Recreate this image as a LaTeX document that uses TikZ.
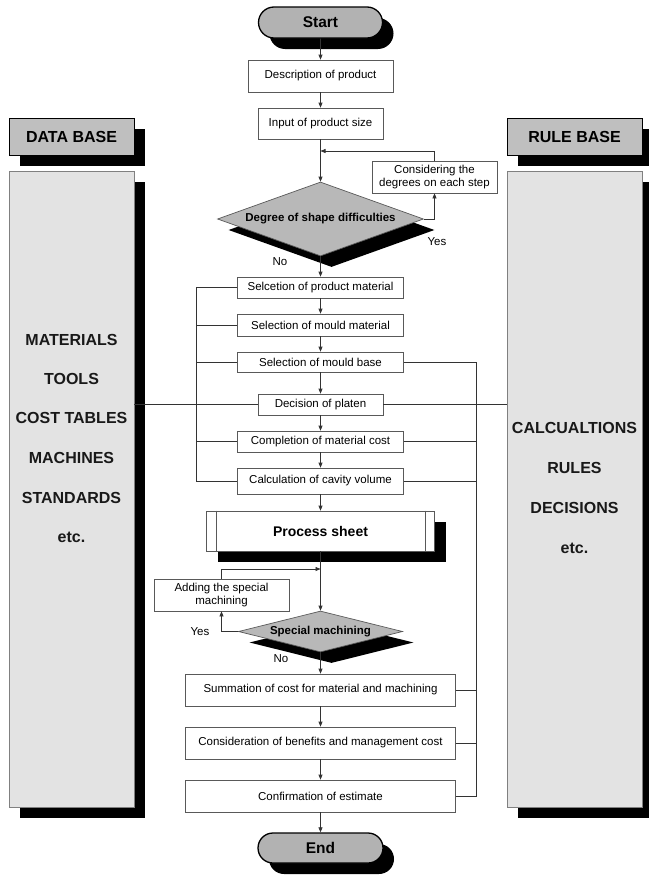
\documentclass[tikz,border=0pt]{standalone}
\usepackage{fontspec}
\setmainfont{Liberation Sans}
\usetikzlibrary{shapes.geometric,shapes.misc,shadows,arrows.meta}
\begin{document}
\begin{tikzpicture}[x=1pt,y=-1pt,
  line/.style={draw=black!80,line width=0.7pt},
  arr/.style={line,-{Triangle[length=5pt,width=4pt]}},
  box/.style={draw=black!65,line width=0.7pt,fill=white,font=\fontsize{11.5}{13.5}\selectfont,inner sep=0pt,align=center},
  blk/.style={drop shadow={shadow xshift=11pt,shadow yshift=-11pt,fill=black,opacity=1}},
  term/.style={rounded rectangle,draw=black,line width=1.3pt,fill=black!30,blk,font=\fontsize{15.5}{18}\bfseries\selectfont,minimum width=124pt,minimum height=31pt,inner sep=0pt},
  dec/.style={diamond,draw=black!65,line width=0.7pt,fill=black!28,blk,inner sep=0pt,font=\fontsize{11.5}{14}\bfseries\selectfont},
  hdr/.style={draw=black,line width=1pt,fill=black!25,blk,font=\fontsize{16}{19}\bfseries\selectfont,minimum height=37pt,inner sep=0pt},
  panel/.style={draw=black!50,line width=0.7pt,fill=black!11,blk,minimum height=636pt,inner sep=0pt},
  lbl/.style={font=\fontsize{11.5}{13.5}\selectfont,inner sep=0pt},
  big/.style={font=\fontsize{16}{19}\bfseries\selectfont,inner sep=0pt,text=black!90}
]
\useasboundingbox (0,0) rectangle (648,878);

% side panels
\node[hdr,minimum width=125pt] (dbh) at (71.5,136.5) {DATA BASE};
\node[panel,minimum width=125pt] (db) at (71.5,489) {};
\node[hdr,minimum width=135pt] (rbh) at (574.5,136.5) {RULE BASE};
\node[panel,minimum width=135pt] (rb) at (574.5,489) {};

\node[big] (t1) at (71.5,340) {MATERIALS};
\node[big] (t2) at (71.5,379) {TOOLS};
\node[big] (t3) at (71.5,418) {COST TABLES};
\node[big] (t4) at (71.5,458) {MACHINES};
\node[big] (t5) at (71.5,498) {STANDARDS};
\node[big] (t6) at (71.5,537) {etc.};
\node[big] (r1) at (574.5,428) {CALCUALTIONS};
\node[big] (r2) at (574.5,468) {RULES};
\node[big] (r3) at (574.5,508) {DECISIONS};
\node[big] (r4) at (574.5,548) {etc.};

% main column
\node[term] (start) at (320.5,22.5) {Start};
\node[box,minimum width=145pt,minimum height=32pt] (desc) at (320.5,76) {Description of product};
\node[box,minimum width=125pt,minimum height=31pt] (input) at (320.5,123.5) {Input of product size};
\node[box,minimum width=125pt,minimum height=32pt] (consider) at (434.5,177) {Considering the\\degrees on each step};
\node[dec,aspect=2.78,minimum width=206pt,minimum height=74pt] (shape) at (320.5,219) {Degree of shape difficulties};
\node[box,minimum width=166pt,minimum height=21pt] (prodmat) at (320.5,287.5) {Selcetion of product material};
\node[box,minimum width=166pt,minimum height=22pt] (mouldmat) at (320.5,325) {Selection of mould material};
\node[box,minimum width=166pt,minimum height=20pt] (mouldbase) at (320.5,362) {Selection of mould base};
\node[box,minimum width=125pt,minimum height=21pt] (platen) at (320.5,404.5) {Decision of platen};
\node[box,minimum width=166pt,minimum height=21pt] (complete) at (320.5,441.5) {Completion of material cost};
\node[box,minimum width=166pt,minimum height=26pt] (cavity) at (320.5,481) {Calculation of cavity volume};
\node[box,blk,minimum width=228pt,minimum height=40pt,font=\fontsize{14}{17}\bfseries\selectfont] (ps) at (320.5,531) {Process sheet};
\draw[draw=black!65,line width=0.7pt] ([xshift=10pt]ps.north west) -- ([xshift=10pt]ps.south west);
\draw[draw=black!65,line width=0.7pt] ([xshift=-10pt]ps.north east) -- ([xshift=-10pt]ps.south east);
\node[box,minimum width=135pt,minimum height=32pt] (adding) at (221.5,595) {Adding the special\\machining};
\node[dec,aspect=4,minimum width=164pt,minimum height=41pt] (special) at (320.5,631.5) {Special machining};
\node[box,minimum width=270pt,minimum height=32pt] (summ) at (320.5,690) {Summation of cost for material and machining};
\node[box,minimum width=270pt,minimum height=32pt] (consid) at (320.5,743) {Consideration of benefits and management cost};
\node[box,minimum width=270pt,minimum height=32pt] (confirm) at (320.5,796) {Confirmation of estimate};
\node[term,minimum width=125pt,minimum height=30pt] (end) at (320.5,848) {End};

% labels
\node[lbl] (yes1) at (437,242) {Yes};
\node[lbl] (no1) at (280,262) {No};
\node[lbl] (yes2) at (200,632) {Yes};
\node[lbl] (no2) at (281,659) {No};

% main flow
\draw[arr] (start) -- (desc);
\draw[arr] (desc) -- (input);
\draw[arr] (input) -- (shape);
\coordinate (j1) at (320.5,151);
\draw[arr] (consider.north) |- (j1);
\draw[arr] (shape.east) -| (consider.south);
\draw[arr] (shape.south) -- (prodmat.north);
\draw[arr] (prodmat) -- (mouldmat);
\draw[arr] (mouldmat) -- (mouldbase);
\draw[arr] (mouldbase) -- (platen);
\draw[arr] (platen) -- (complete);
\draw[arr] (complete) -- (cavity);
\draw[arr] (cavity) -- (ps);
\draw[arr] (ps.south) -- (special.north);
\coordinate (j2) at (320.5,569);
\draw[arr] (adding.north) |- (j2);
\draw[arr] (special.west) -| (adding.south);
\draw[arr] (special.south) -- (summ.north);
\draw[arr] (summ) -- (consid);
\draw[arr] (consid) -- (confirm);
\draw[arr] (confirm) -- (end);

% left bus
\coordinate (lb) at (196,0);
\draw[line] (prodmat.west) -- (prodmat.west -| lb) -- (cavity.west -| lb) -- (cavity.west);
\draw[line] (mouldmat.west) -- (mouldmat.west -| lb);
\draw[line] (mouldbase.west) -- (mouldbase.west -| lb);
\draw[line] (complete.west) -- (complete.west -| lb);
\draw[line] (platen.west) -- (platen.west -| db.east);
\draw[line] (platen.east) -- (platen.east -| rb.west);

% right bus
\coordinate (rbus) at (476,0);
\draw[line] (mouldbase.east) -- (mouldbase.east -| rbus) -- (confirm.east -| rbus) -- (confirm.east);
\draw[line] (complete.east) -- (complete.east -| rbus);
\draw[line] (cavity.east) -- (cavity.east -| rbus);
\draw[line] (summ.east) -- (summ.east -| rbus);
\draw[line] (consid.east) -- (consid.east -| rbus);
\end{tikzpicture}
\end{document}
